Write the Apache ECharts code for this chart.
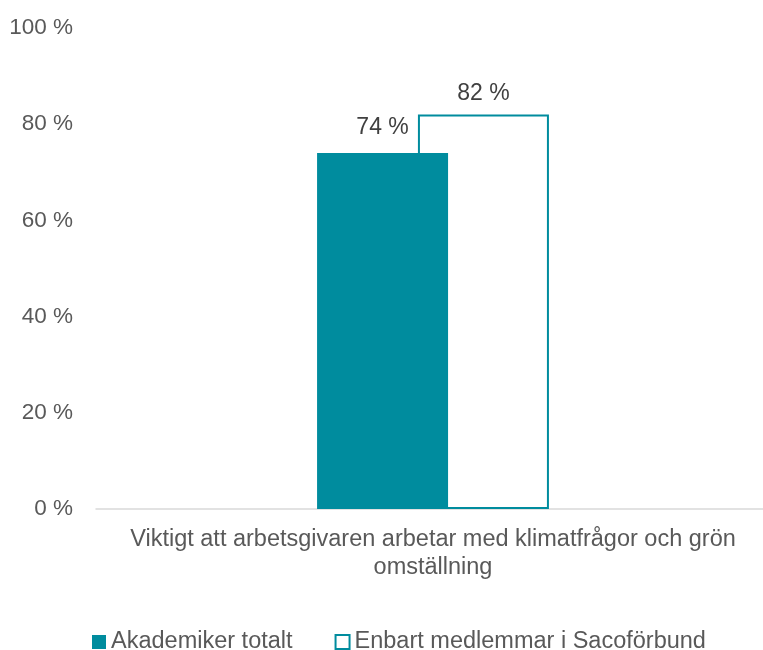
<!DOCTYPE html>
<html>
<head>
<meta charset="utf-8">
<script src="https://cdn.jsdelivr.net/npm/echarts@6/dist/echarts.min.js"></script>
<style>
  html, body { margin: 0; padding: 0; background: #fff; }
  #chart { width: 763px; height: 650px; }
</style>
</head>
<body>
<div id="chart"></div>
<script>
const categories = ['Viktigt att arbetsgivaren arbetar med klimatfrågor och grön\nomställning']
const seriesNames = ['Akademiker totalt', 'Enbart medlemmar i Sacoförbund']
const totalValues = [74]
const memberValues = [82]

const teal = '#008c9e'
const font = '"Liberation Sans", Arial, sans-serif'

const myChart = echarts.init(document.getElementById('chart'))
myChart.setOption({
  animation: false,
  textStyle: { fontFamily: font },
  grid: { left: 96, right: -7, top: 28, bottom: 141, outerBoundsMode: 'none' },
  legend: {
    top: 625,
    left: 87,
    itemWidth: 14,
    itemHeight: 14,
    itemGap: 42,
    icon: 'rect',
    textStyle: { fontSize: 23.5, color: '#595959', fontFamily: font },
    data: seriesNames
  },
  xAxis: {
    type: 'category',
    data: categories,
    axisTick: { show: false },
    axisLine: { lineStyle: { color: '#d9d9d9', width: 1.5 } },
    axisLabel: { fontSize: 23.5, color: '#595959', lineHeight: 28, margin: 17, fontFamily: font }
  },
  yAxis: {
    type: 'value',
    min: 0,
    max: 100,
    interval: 20,
    splitLine: { show: false },
    axisLine: { show: false },
    axisTick: { show: false },
    axisLabel: {
      fontSize: 22.5, color: '#595959', margin: 23, fontFamily: font,
      padding: [9, 0, 0, 0],
      formatter: v => v + ' %'
    }
  },
  series: [
    {
      name: seriesNames[0],
      type: 'bar',
      data: totalValues,
      z: 3,
      barWidth: 131,
      barGap: '-23%',
      itemStyle: { color: teal },
      label: {
        show: true, position: 'top', distance: 14,
        fontSize: 23, color: '#404040', fontFamily: font,
        formatter: p => p.value + ' %'
      }
    },
    {
      name: seriesNames[1],
      type: 'bar',
      data: memberValues,
      z: 2,
      barWidth: 131,
      itemStyle: { color: '#ffffff', borderColor: teal, borderWidth: 2 },
      label: {
        show: true, position: 'top', distance: 9,
        fontSize: 23, color: '#404040', fontFamily: font,
        formatter: p => p.value + ' %'
      }
    }
  ]
})
</script>
</body>
</html>
